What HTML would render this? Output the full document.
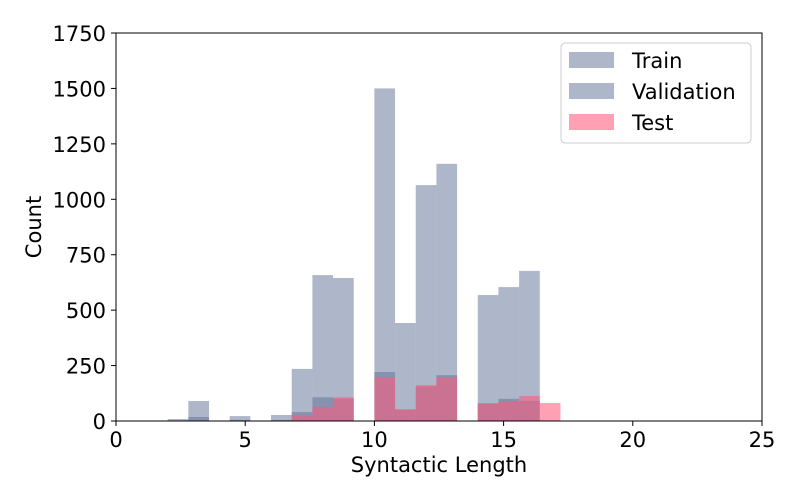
<!DOCTYPE html>
<html><head><meta charset="utf-8"><style>
body{margin:0;background:#fff}
svg{display:block;font-family:"DejaVu Sans","Liberation Sans",sans-serif}
</style></head><body>
<svg id="chart" width="800" height="500">
<g id="bars"></g>
<g id="axes"></g>
<g>
<rect x="561" y="43" width="190" height="100" rx="4" fill="#fff" fill-opacity="0.8" stroke="#ccc"/>
<rect x="569" y="52" width="45" height="16" fill="rgb(93,110,150)" fill-opacity="0.5"/>
<text x="632" y="68" font-size="21">Train</text>
<rect x="569" y="83" width="45" height="16" fill="rgb(93,110,150)" fill-opacity="0.5"/>
<text x="632" y="99" font-size="21">Validation</text>
<rect x="569" y="114" width="45" height="16" fill="rgb(255,88,123)" fill-opacity="0.57"/>
<text x="632" y="130" font-size="21">Test</text>
</g>
</svg>
<script>
const binWidth = 0.8;
const trainBins = [2.0, 2.8, 4.4, 6.0, 6.8, 7.6, 8.4, 10.0, 10.8, 11.6, 12.4, 14.0, 14.8, 15.6];
const trainCounts = [9, 90, 22, 27, 235, 658, 645, 1500, 442, 1064, 1160, 568, 604, 677];
const valBins = [2.8, 4.4, 6.0, 6.8, 7.6, 8.4, 10.0, 10.8, 11.6, 12.4, 14.0, 14.8, 15.6];
const valCounts = [18, 4, 4, 40, 107, 100, 221, 50, 155, 207, 78, 100, 90];
const testBins = [6.8, 7.6, 8.4, 10.0, 10.8, 11.6, 12.4, 14.0, 14.8, 15.6, 16.4];
const testCounts = [25, 63, 107, 197, 54, 162, 197, 81, 90, 113, 81];
const xTicks = [0, 5, 10, 15, 20, 25];
const yTicks = [0, 250, 500, 750, 1000, 1250, 1500, 1750];

const NS = "http://www.w3.org/2000/svg";
const X0 = 116, X1 = 762, Y0 = 421, Y1 = 33;
const xs = v => X0 + (v - 0) / 25 * (X1 - X0);
const ys = v => Y0 - v / 1750 * (Y0 - Y1);
function mk(tag, attrs, parent){const e=document.createElementNS(NS,tag);for(const k in attrs)e.setAttribute(k,attrs[k]);parent.appendChild(e);return e;}
const bars = document.getElementById('bars');
function series(bins, counts, color, op, name){
  bins.forEach((b,i)=>{
    const r = mk('rect',{x:xs(b),y:ys(counts[i]),width:xs(b+binWidth)-xs(b),height:Y0-ys(counts[i]),fill:color,'fill-opacity':op},bars);
    
    
  });
}
series(trainBins, trainCounts, 'rgb(93,110,150)', 0.5, 'train');
series(valBins, valCounts, 'rgb(93,110,150)', 0.5, 'validation');
series(testBins, testCounts, 'rgb(255,88,123)', 0.57, 'test');

const ax = document.getElementById('axes');
mk('path',{d:`M${X0},${Y1}V${Y0}H${X1}`,fill:'none',stroke:'#000','stroke-width':1},ax);
mk('path',{d:`M${X0},${Y1}H${X1}V${Y0}`,fill:'none',stroke:'#000','stroke-width':1},ax);
xTicks.forEach(t=>{
  mk('line',{x1:xs(t),x2:xs(t),y1:Y0,y2:Y0+5,stroke:'#000'},ax);
  const tx = mk('text',{x:xs(t),y:Y0+26,'font-size':21,'text-anchor':'middle'},ax);
  tx.textContent = t;
  
  
});
yTicks.forEach(t=>{
  mk('line',{x1:X0-5,x2:X0,y1:ys(t),y2:ys(t),stroke:'#000'},ax);
  const tx = mk('text',{x:X0-10,y:ys(t)+8,'font-size':21,'text-anchor':'end'},ax);
  tx.textContent = t;
  
  
});
const xl = mk('text',{x:(X0+X1)/2,y:472,'font-size':21,'text-anchor':'middle'},ax);
xl.textContent = 'Syntactic Length';


const yl = mk('text',{x:41,y:227,'font-size':21,'text-anchor':'middle',transform:'rotate(-90 41 227)'},ax);
yl.textContent = 'Count';


</script>
</body></html>
